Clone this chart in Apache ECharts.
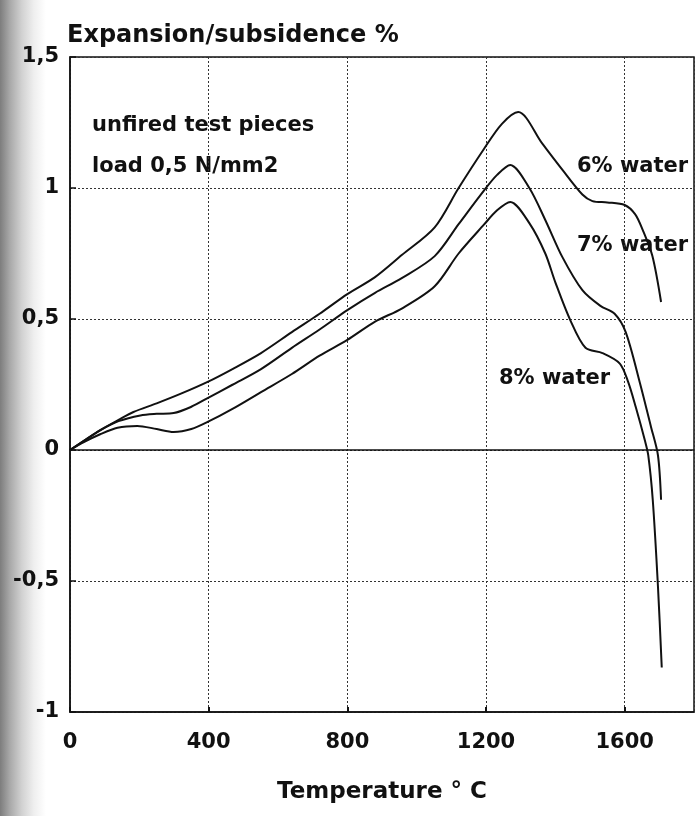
<!DOCTYPE html>
<html>
<head>
<meta charset="utf-8">
<script src="https://cdn.jsdelivr.net/npm/echarts@6/dist/echarts.min.js"></script>
<style>
  html, body { margin: 0; padding: 0; }
  body {
    width: 698px; height: 816px;
    background: linear-gradient(to right, #7d7d7d 0px, #a9a9a9 10px, #d2d2d2 22px, #efefef 34px, #ffffff 46px);
  }
  #chart { width: 698px; height: 816px; }
</style>
</head>
<body>
<div id="chart"></div>
<script>
// Temperature (°C) / expansion (%) pairs for each water content
const water6 = [
  [0, 0], [40, 0.035], [87, 0.076], [140, 0.115], [183, 0.145], [250, 0.178],
  [320, 0.215], [397, 0.26], [470, 0.31], [551, 0.37], [640, 0.45], [720, 0.52],
  [800, 0.595], [880, 0.66], [957, 0.744], [1052, 0.85], [1121, 1.0], [1194, 1.149],
  [1246, 1.245], [1293, 1.29], [1362, 1.17], [1420, 1.07], [1478, 0.975], [1507, 0.95],
  [1550, 0.945], [1600, 0.935], [1630, 0.9], [1652, 0.84], [1680, 0.74], [1705, 0.565]
];
const water7 = [
  [0, 0], [40, 0.035], [87, 0.075], [140, 0.11], [203, 0.132], [250, 0.138],
  [299, 0.141], [350, 0.165], [397, 0.198], [470, 0.25], [551, 0.309], [640, 0.39],
  [720, 0.46], [800, 0.534], [880, 0.6], [957, 0.656], [1052, 0.74], [1121, 0.862],
  [1194, 0.99], [1232, 1.05], [1270, 1.088], [1325, 1.0], [1371, 0.878], [1420, 0.737],
  [1478, 0.61], [1530, 0.55], [1571, 0.52], [1603, 0.45], [1644, 0.256], [1676, 0.088],
  [1696, -0.02], [1705, -0.19]
];
const water8 = [
  [0, 0], [40, 0.03], [87, 0.06], [137, 0.085], [194, 0.092], [250, 0.08],
  [299, 0.069], [350, 0.08], [397, 0.107], [470, 0.158], [551, 0.221],
  [640, 0.29], [720, 0.36], [800, 0.42], [880, 0.49], [957, 0.54], [1052, 0.625],
  [1121, 0.75], [1194, 0.86], [1232, 0.915], [1270, 0.947], [1325, 0.866], [1371, 0.75],
  [1400, 0.64], [1443, 0.496], [1487, 0.39], [1536, 0.37], [1586, 0.33], [1610, 0.26],
  [1632, 0.164], [1658, 0.038], [1668, -0.02], [1681, -0.19], [1696, -0.52], [1707, -0.83]
];
const seriesNames = ['6% water', '7% water', '8% water'];
const xTicks = [0, 400, 800, 1200, 1600];
const yTicks = [-1, -0.5, 0, 0.5, 1, 1.5];

const font = '"DejaVu Sans", "Liberation Sans", sans-serif';
const ink = '#111';

const chart = echarts.init(document.getElementById('chart'), null, { renderer: 'canvas' });

function curve(name, data, withZeroLine) {
  const s = {
    name: name,
    type: 'line',
    data: data,
    smooth: 0.3,
    showSymbol: false,
    symbol: 'none',
    lineStyle: { color: ink, width: 2 },
    z: 5
  };
  if (withZeroLine) {
    s.markLine = {
      silent: true,
      symbol: ['none', 'none'],
      label: { show: false },
      lineStyle: { color: ink, width: 1.5, type: 'solid' },
      data: [{ yAxis: 0 }]
    };
  }
  return s;
}

chart.setOption({
  animation: false,
  grid: {
    left: 70, right: 4, top: 57, bottom: 104,
    show: true, borderColor: ink, borderWidth: 1.5, backgroundColor: 'rgba(255,255,255,0)'
  },
  xAxis: {
    type: 'value',
    min: xTicks[0], max: 1800, interval: 400,
    name: 'Temperature ° C',
    nameLocation: 'middle',
    nameGap: 69,
    nameTextStyle: { fontFamily: font, fontSize: 23, fontWeight: 'bold', color: ink },
    axisLine: { show: true, onZero: false, lineStyle: { color: ink, width: 1.5 } },
    axisTick: { show: true, inside: true, length: 5, lineStyle: { color: ink, width: 2 } },
    axisLabel: {
      showMaxLabel: false, margin: 20,
      fontFamily: font, fontSize: 21, fontWeight: 'bold', color: ink,
      formatter: v => (xTicks.indexOf(v) >= 0 ? String(v) : '')
    },
    splitLine: { show: true, lineStyle: { color: '#333', width: 1, type: [2, 2] } }
  },
  yAxis: {
    type: 'value',
    min: yTicks[0], max: yTicks[yTicks.length - 1], interval: 0.5,
    axisLine: { show: true, onZero: false, lineStyle: { color: ink, width: 1.5 } },
    axisTick: { show: true, inside: true, length: 6, lineStyle: { color: ink, width: 1.5 } },
    axisLabel: {
      margin: 11,
      fontFamily: font, fontSize: 21, fontWeight: 'bold', color: ink,
      formatter: v => String(v).replace('.', ',')
    },
    splitLine: { show: true, lineStyle: { color: '#333', width: 1, type: [2, 2] } }
  },
  series: [
    curve(seriesNames[0], water6, true),
    curve(seriesNames[1], water7, false),
    curve(seriesNames[2], water8, false)
  ],
  graphic: [
    { type: 'text', left: 67, top: 24,
      style: { text: 'Expansion/subsidence %', font: 'bold 24px ' + font, fill: ink } },
    { type: 'text', left: 92, top: 115,
      style: { text: 'unfired test pieces', font: 'bold 21px ' + font, fill: ink } },
    { type: 'text', left: 92, top: 156,
      style: { text: 'load 0,5 N/mm2', font: 'bold 21px ' + font, fill: ink } },
    { type: 'text', left: 577, top: 156,
      style: { text: seriesNames[0], font: 'bold 21px ' + font, fill: ink } },
    { type: 'text', left: 577, top: 235,
      style: { text: seriesNames[1], font: 'bold 21px ' + font, fill: ink } },
    { type: 'text', left: 499, top: 368,
      style: { text: seriesNames[2], font: 'bold 21px ' + font, fill: ink } }
  ]
});
</script>
</body>
</html>
